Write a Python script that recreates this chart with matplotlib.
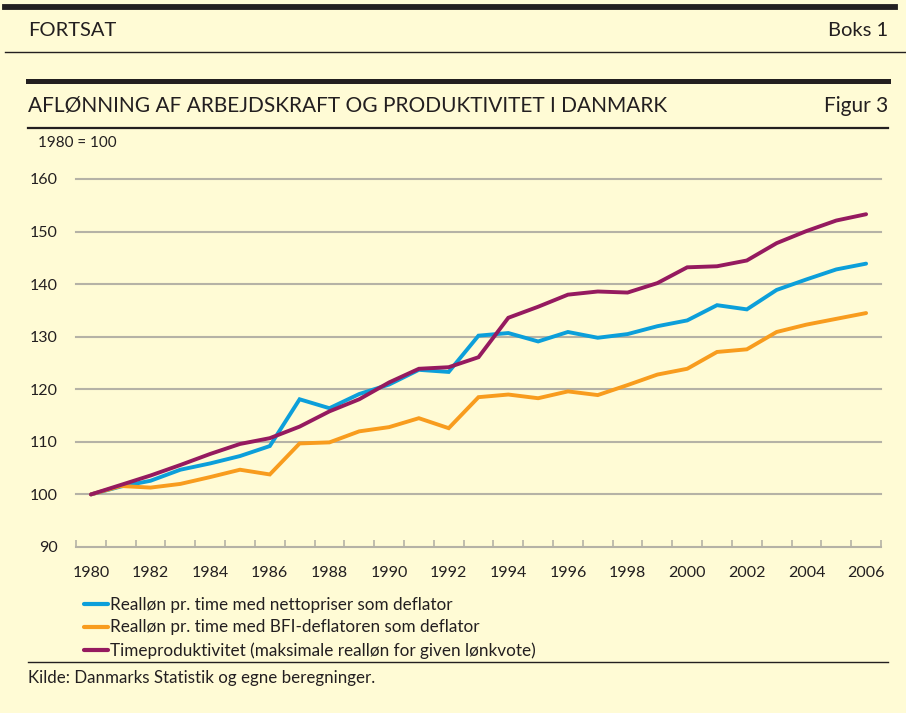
import matplotlib
matplotlib.use("Agg")
import matplotlib.pyplot as plt
from matplotlib.lines import Line2D

plt.rcParams['font.family'] = ['Lato', 'DejaVu Sans']

years = list(range(1980, 2007))
netto = [100.0, 101.5, 102.6, 104.7, 105.9, 107.3, 109.2, 118.1, 116.4, 119.1,
         120.9, 123.7, 123.3, 130.2, 130.7, 129.1, 130.9, 129.8, 130.5, 132.0,
         133.1, 136.0, 135.2, 138.9, 140.9, 142.8, 143.9]
bfi = [100.0, 101.6, 101.3, 102.0, 103.3, 104.7, 103.8, 109.7, 109.9, 112.0,
       112.8, 114.5, 112.6, 118.5, 119.0, 118.3, 119.6, 118.9, 120.8, 122.8,
       123.9, 127.1, 127.6, 130.9, 132.3, 133.4, 134.5]
prod = [100.0, 101.8, 103.6, 105.6, 107.7, 109.6, 110.7, 112.9, 115.8, 118.1,
        121.3, 123.9, 124.2, 126.1, 133.6, 135.7, 138.0, 138.6, 138.4, 140.2,
        143.2, 143.4, 144.5, 147.8, 150.1, 152.1, 153.3]
labels = ["Realløn pr. time med nettopriser som deflator",
          "Realløn pr. time med BFI-deflatoren som deflator",
          "Timeproduktivitet (maksimale realløn for given lønkvote)"]
colors = ["#0c9fda", "#f89c1e", "#951a5f"]
yticks = [90, 100, 110, 120, 130, 140, 150, 160]
xtick_years = list(range(1980, 2007, 2))

bg = "#fffbd5"
ink = "#231f20"
W, H = 906, 713
fig = plt.figure(figsize=(W / 100, H / 100), dpi=100, facecolor=bg)

def fx(px):
    return px / W

def fy(py):
    return 1 - py / H

# header decorations
fig.add_artist(Line2D([fx(5), fx(895)], [fy(6.5), fy(6.5)], color=ink, lw=4.2))
fig.text(fx(28), fy(31), "FORTSAT", fontsize=14.5, va="center", ha="left", color=ink)
fig.text(fx(888), fy(31), "Boks 1", fontsize=14.5, va="center", ha="right", color=ink)
fig.add_artist(Line2D([fx(5), fx(906)], [fy(52), fy(52)], color=ink, lw=1.0))
fig.add_artist(Line2D([fx(28), fx(888)], [fy(81), fy(81)], color=ink, lw=3.6))
fig.text(fx(28), fy(106), "AFLØNNING AF ARBEJDSKRAFT OG PRODUKTIVITET I DANMARK",
         fontsize=15, va="center", ha="left", color=ink)
fig.text(fx(888), fy(106), "Figur 3", fontsize=15, va="center", ha="right", color=ink)
fig.add_artist(Line2D([fx(28), fx(888)], [fy(128), fy(128)], color=ink, lw=1.6))
fig.text(fx(38), fy(143), "1980 = 100", fontsize=11, va="center", ha="left", color=ink)
fig.add_artist(Line2D([fx(28), fx(888)], [fy(662), fy(662)], color=ink, lw=1.0))
fig.text(fx(28), fy(678), "Kilde: Danmarks Statistik og egne beregninger.",
         fontsize=12.2, va="center", ha="left", color=ink)

ax = fig.add_axes([fx(76), fy(547), fx(881) - fx(76), fy(179) - fy(547)])
ax.set_facecolor(bg)
ax.set_xlim(1979.5, 2006.5)
ax.set_ylim(90, 160)

for v in yticks[1:]:
    ax.axhline(v, color="#b5b2a6", lw=1.5, zorder=1, clip_on=False)

lines = []
for vals, c, lab in zip([netto, bfi, prod], colors, labels):
    ln, = ax.plot(years, vals, color=c, lw=2.8, label=lab, zorder=3,
                  solid_joinstyle="miter", solid_capstyle="round")
    lines.append(ln)

for s in ["top", "right", "left"]:
    ax.spines[s].set_visible(False)
ax.spines["bottom"].set_color("#b5b2a6")
ax.spines["bottom"].set_linewidth(1.5)

ax.set_yticks(yticks)
ax.set_yticklabels([str(v) for v in yticks], fontsize=11.5, color=ink)
ax.tick_params(axis="y", length=0, pad=13)

ax.set_xticks([y + 0.5 for y in range(1979, 2007)], minor=False)
ax.set_xticklabels([])
ax.tick_params(axis="x", which="major", direction="in", length=5, color="#b5b2a6", width=1.2)
ax.set_xticks(xtick_years, minor=True)
ax.set_xticklabels([str(y) for y in xtick_years], minor=True, fontsize=11.5, color=ink)
ax.tick_params(axis="x", which="minor", length=0, pad=14)

leg = ax.legend(handles=lines, loc="upper left", bbox_to_anchor=(fx(84), fy(597)),
                bbox_transform=fig.transFigure, frameon=False, fontsize=12.3,
                handlelength=1.4, handletextpad=0.15, labelspacing=0.38,
                borderpad=0, borderaxespad=0)
for t in leg.get_texts():
    t.set_color(ink)
for h in leg.get_lines():
    h.set_linewidth(3)

fig.savefig("out.png", dpi=100, facecolor=bg)
